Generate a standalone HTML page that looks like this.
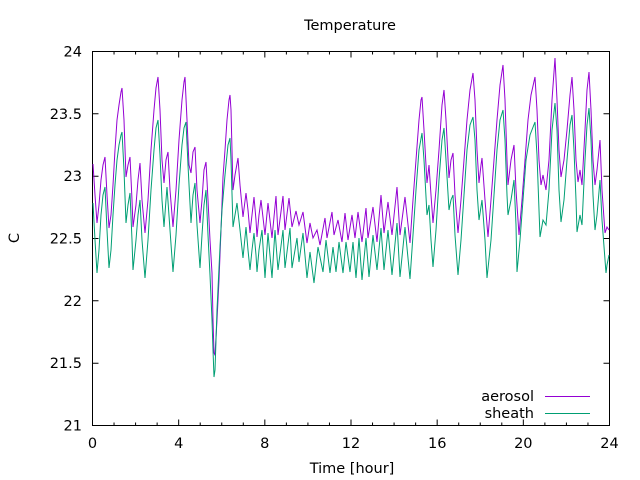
<!DOCTYPE html>
<html><head><meta charset="utf-8"><style>
html,body{margin:0;padding:0;background:#fff;}
svg{display:block;}
text{font-family:"DejaVu Sans","Liberation Sans",sans-serif;font-size:14.5px;fill:#000;}
</style></head><body>
<svg width="640" height="480" viewBox="0 0 640 480" xmlns="http://www.w3.org/2000/svg">
<rect width="640" height="480" fill="#fff"/>
<text x="350" y="30" text-anchor="middle">Temperature</text>
<g text-anchor="end">
<text x="82" y="430.5">21</text>
<text x="82" y="368.2">21.5</text>
<text x="82" y="305.8">22</text>
<text x="82" y="243.5">22.5</text>
<text x="82" y="181.2">23</text>
<text x="82" y="118.8">23.5</text>
<text x="82" y="56.5">24</text>
</g>
<g text-anchor="middle">
<text x="92.5" y="448">0</text>
<text x="178.7" y="448">4</text>
<text x="264.8" y="448">8</text>
<text x="351" y="448">12</text>
<text x="437.2" y="448">16</text>
<text x="523.3" y="448">20</text>
<text x="609.5" y="448">24</text>
<text x="352" y="473">Time [hour]</text>
</g>
<text x="0" y="0" text-anchor="middle" transform="translate(19,238) rotate(-90)">C</text>
<g stroke="#000" stroke-width="1" fill="none">
<path d="M92.5,51.5H609.5V425.5H92.5Z"/>
<path d="M114.04,425.5v-3M135.58,425.5v-3M157.13,425.5v-3M178.67,425.5v-6M200.21,425.5v-3M221.75,425.5v-3M243.29,425.5v-3M264.83,425.5v-6M286.38,425.5v-3M307.92,425.5v-3M329.46,425.5v-3M351,425.5v-6M372.54,425.5v-3M394.08,425.5v-3M415.63,425.5v-3M437.17,425.5v-6M458.71,425.5v-3M480.25,425.5v-3M501.79,425.5v-3M523.33,425.5v-6M544.88,425.5v-3M566.42,425.5v-3M587.96,425.5v-3"/>
<path d="M114.04,51.5v3M135.58,51.5v3M157.13,51.5v3M178.67,51.5v6M200.21,51.5v3M221.75,51.5v3M243.29,51.5v3M264.83,51.5v6M286.38,51.5v3M307.92,51.5v3M329.46,51.5v3M351,51.5v6M372.54,51.5v3M394.08,51.5v3M415.63,51.5v3M437.17,51.5v6M458.71,51.5v3M480.25,51.5v3M501.79,51.5v3M523.33,51.5v6M544.88,51.5v3M566.42,51.5v3M587.96,51.5v3"/>
<path d="M92.5,363.2h6M92.5,300.8h6M92.5,238.5h6M92.5,176.2h6M92.5,113.8h6"/>
<path d="M609.5,363.2h-6M609.5,300.8h-6M609.5,238.5h-6M609.5,176.2h-6M609.5,113.8h-6"/>
</g>
<polyline fill="none" stroke="#9400d3" stroke-width="1" points="93,164 95,195 97,223 99,205 101,180 103,165 105,157 107,195 109,228 111,215 113,185 115,150 117,120 119,105 121,92 122,88 124,120 126,177 128,165 130,157 132,200 133,227 136,205 138,180 140,163 142,200 145,233 148,200 151,150 154,110 156,88 158,77 160,110 162,160 164,183 166,160 168,152 170,190 173,227 176,190 179,140 182,100 184,82 185,77 187,120 189,165 191,173 193,152 195,147 197,190 200,223 202,200 204,170 206,162 208,200 210,240 212,273 213,320 214,353 215,355 217,320 219,280 221,230 223,177 225,150 227,120 229,100 230,95 231,110 233,190 235,175 238,158 240,185 243,217 246,193 248,210 250,233 252,215 254,197 256,220 257,237 259,215 261,200 265,235 268,203 272,238 276,196 278,235 283,196 285,230 289,198 292,227 296,211 299,225 303,212 307,243 310,223 313,238 317,230 320,245 325,218 327,238 332,212 334,235 338,220 342,242 345,213 348,240 352,215 355,238 358,212 362,242 366,208 368,238 373,207 377,242 381,195 384,233 388,202 392,235 397,187 400,235 405,197 410,243 413,200 416,160 419,120 421,100 422,97 424,130 427,183 429,165 431,195 433,223 436,190 439,150 442,105 444,90 446,120 449,178 451,160 453,153 455,195 458,233 461,200 464,160 467,120 470,90 473,73 475,100 477,150 479,183 481,165 482,158 485,200 488,237 491,200 494,160 497,120 500,85 503,65 505,100 507,160 508,185 511,160 514,145 516,190 519,235 522,200 525,160 528,120 531,95 535,77 537,110 539,160 541,185 543,175 546,190 549,160 552,100 555,58 557,100 559,150 561,177 564,160 567,130 570,95 572,77 574,110 576,160 578,182 580,170 582,185 585,130 587,90 589,72 591,110 593,160 595,185 597,170 600,140 602,190 605,233 607,227 609,230"/>
<polyline fill="none" stroke="#009e73" stroke-width="1" points="93,203 95,240 97,273 99,250 101,215 103,195 105,187 107,230 109,268 111,250 113,215 115,185 117,160 119,145 121,135 122,132 124,170 126,223 128,205 130,193 132,240 133,270 136,240 138,215 140,200 142,240 145,278 148,240 151,190 154,150 156,128 158,120 160,155 162,200 164,227 166,200 167,187 170,230 173,272 176,235 179,185 182,145 184,128 186,122 188,165 191,223 193,195 195,183 197,225 200,268 202,235 204,205 206,190 208,235 210,275 212,320 213,350 214,377 215,370 217,310 220,247 222,210 225,175 228,145 230,138 231,160 233,227 235,215 237,203 240,230 243,258 246,227 248,250 250,270 252,250 254,233 256,255 257,272 259,250 262,230 265,278 268,233 272,278 275,230 278,270 283,230 285,268 290,228 292,268 297,238 299,262 303,233 307,278 310,252 314,283 318,247 323,272 326,240 330,273 333,247 336,272 339,242 343,273 346,242 350,272 353,242 356,278 359,238 362,280 366,238 369,277 373,235 377,270 381,228 384,270 388,230 392,275 397,223 400,277 405,227 410,279 413,235 416,190 419,150 422,133 424,160 427,215 429,205 431,240 433,267 436,230 439,180 442,140 444,128 446,160 449,210 451,200 453,195 455,235 458,275 461,240 464,195 467,150 470,125 473,117 475,140 477,190 479,220 482,200 485,240 487,278 491,240 494,195 497,150 500,120 503,110 505,140 507,195 508,215 511,200 514,180 516,225 517,272 520,240 523,200 526,160 530,135 535,122 537,155 539,210 540,237 543,220 546,225 549,190 552,130 555,103 557,130 559,190 561,222 564,200 567,160 570,125 572,115 574,150 576,200 577,232 580,215 582,225 585,160 587,125 589,108 591,140 593,195 595,230 597,215 600,180 602,220 606,273 607,265 609,255"/>
<text x="534" y="401" text-anchor="end">aerosol</text>
<text x="534" y="418" text-anchor="end">sheath</text>
<line x1="545" y1="396.5" x2="590" y2="396.5" stroke="#9400d3" stroke-width="1"/>
<line x1="545" y1="413.5" x2="590" y2="413.5" stroke="#009e73" stroke-width="1"/>
</svg>
</body></html>
